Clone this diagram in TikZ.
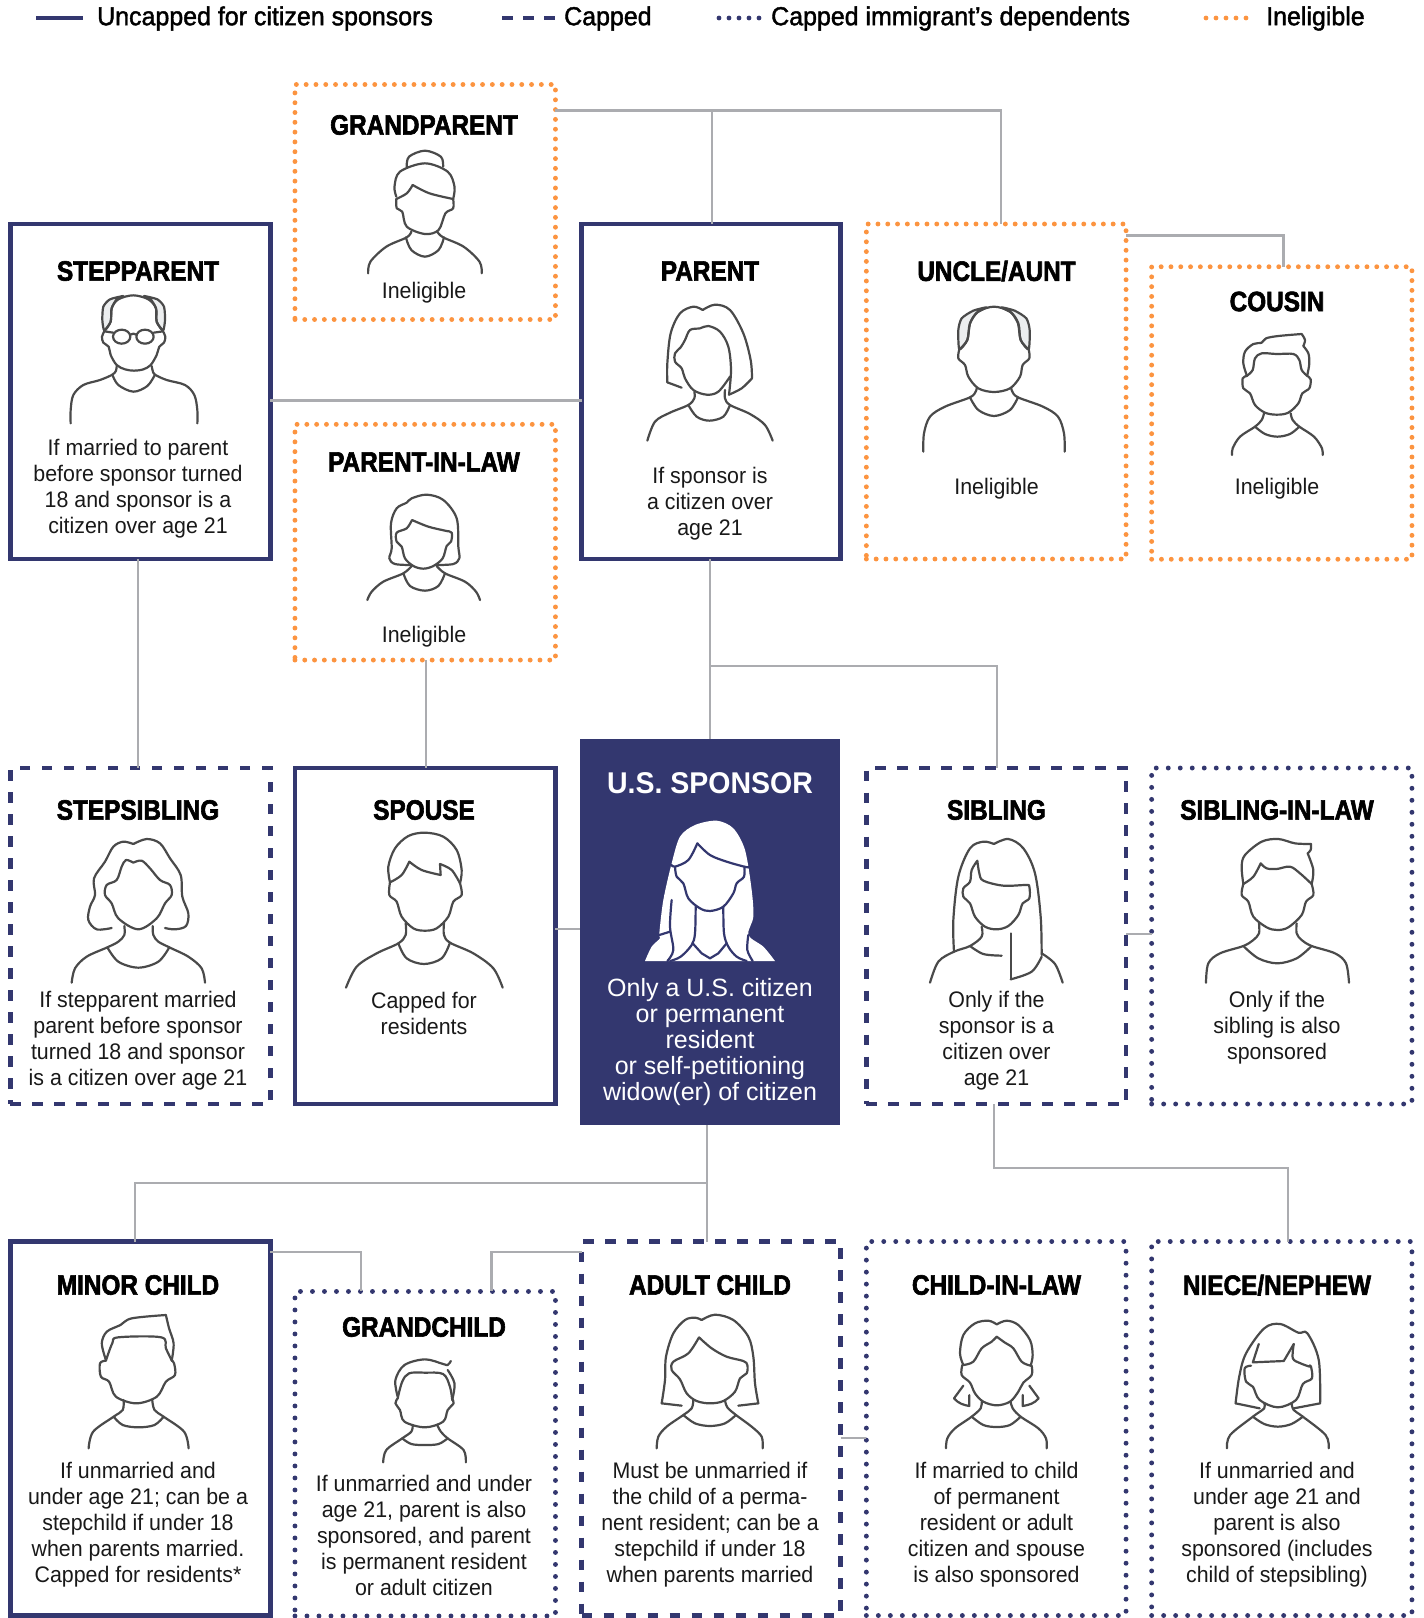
\documentclass[tikz,border=0pt]{standalone}
\usepackage{fontspec}
\setmainfont{Liberation Sans}
\newfontfamily\bodyf[FakeStretch=0.95]{Liberation Sans}
\newfontfamily\spf[FakeStretch=1.0]{Liberation Sans}
\newfontfamily\titlef[FakeStretch=0.87,FakeBold=2.2]{Liberation Sans Bold}
\newfontfamily\spt[FakeStretch=0.95]{Liberation Sans Bold}
\newfontfamily\legf[FakeStretch=0.96,FakeBold=1.6]{Liberation Sans}
\definecolor{navy}{HTML}{33376F}
\definecolor{orng}{HTML}{FC9440}
\definecolor{conn}{HTML}{ABACB0}
\definecolor{figc}{HTML}{4A4A4A}
\definecolor{hairg}{HTML}{ECEEEF}
\newcommand\sm[1]{\draw[figline] plot[smooth,tension=.55] coordinates {#1};}
\newcommand\hg[1]{\draw[figline,fill=hairg] plot[smooth cycle,tension=.4] coordinates {#1};}
\tikzset{
  boxbase/.style={inner sep=0pt,outer sep=0pt,line width=4.8pt,minimum width=#1},
  solidbox/.style={boxbase=#1,draw=navy,line cap=butt},
  dashbox/.style={boxbase=#1,draw=navy,dash pattern=on 10.5pt off 11.5pt},
  dotbox/.style={boxbase=#1,draw=navy,line width=4.9pt,line cap=round,dash pattern=on 0pt off 12pt},
  orgbox/.style={boxbase=#1,draw=orng,line width=4.9pt,line cap=round,dash pattern=on 0pt off 9.8pt},
  cline/.style={draw=conn,line width=2.2pt},
  figline/.style={draw=figc,line width=2.2pt,line cap=round,line join=round},
  navline/.style={draw=navy,line width=2.2pt,line cap=round,line join=round},
  title/.style={font=\titlef\fontsize{28}{30}\selectfont,text=black,inner sep=0pt},
  body/.style={font=\bodyf\fontsize{22.5}{26}\selectfont,text=black!90,align=center,inner sep=0pt},
  leg/.style={font=\legf\fontsize{26}{28}\selectfont,text=black,anchor=west,inner sep=0pt},
}
\begin{document}
\begin{tikzpicture}[x=1pt,y=-1pt]
\useasboundingbox (0,0) rectangle (1424,1618);
% boxes
\node[orgbox=260.5pt,minimum height=235pt] (gp) at (425.2,202) {};
\node[solidbox=260pt,minimum height=335pt] (step) at (140.2,391.5) {};
\node[solidbox=259pt,minimum height=335pt] (par) at (711,391.5) {};
\node[orgbox=259.7pt,minimum height=335pt] (unc) at (996.2,391.5) {};
\node[orgbox=260.3pt,minimum height=292.5pt] (cou) at (1281.8,413) {};
\node[orgbox=260.5pt,minimum height=235.7pt] (pil) at (425.2,542.2) {};
\node[dashbox=260pt,minimum height=336pt] (ssib) at (140.2,936) {};
\node[solidbox=260.5pt,minimum height=336pt] (spo) at (425.2,936) {};
\node[fill=navy,inner sep=0pt,minimum width=260pt,minimum height=386pt] (us) at (710,932) {};
\node[dashbox=259.7pt,minimum height=336pt] (sib) at (996.2,936) {};
\node[dotbox=260.3pt,minimum height=336pt] (sil) at (1281.8,936) {};
\node[solidbox=260pt,minimum height=374pt] (min) at (140.2,1428.5) {};
\node[dotbox=260.5pt,minimum height=324.5pt] (gc) at (425.2,1453.7) {};
\node[dashbox=259pt,minimum height=374pt] (adu) at (711,1428.5) {};
\node[dotbox=259.7pt,minimum height=374pt] (cil) at (996.2,1428.5) {};
\node[dotbox=260.3pt,minimum height=374pt] (nie) at (1281.8,1428.5) {};
% connector helper points
\coordinate (a1) at (712,110.5);
\coordinate (a2) at (1001,110.5);
\coordinate (b1) at (710,666);
\coordinate (b2) at (997,666);
\coordinate (c1) at (1283.5,235.5);
\coordinate (d1) at (994,1168);
\coordinate (d2) at (1288,1168);
\coordinate (e1) at (707,1183);
\coordinate (e2) at (135,1183);
\coordinate (f1) at (361,1252);
\coordinate (f2) at (491.5,1252);
\coordinate (g1) at (0,400.5);
\coordinate (g2) at (0,929);
\coordinate (g3) at (0,934);
\coordinate (g4) at (0,1438);
\coordinate (h1) at (138,0);
\coordinate (h2) at (426,0);
% connectors
\draw[cline] (gp.east |- a1) -- (a2) -- (a2 |- unc.north);
\draw[cline] (a1) -- (a1 |- par.north);
\draw[cline] (step.east |- g1) -- (par.west |- g1);
\draw[cline] (h1 |- step.south) -- (h1 |- ssib.north);
\draw[cline] (h2 |- pil.south) -- (h2 |- spo.north);
\draw[cline] (b1 |- par.south) -- (b1 |- us.north);
\draw[cline] (b1) -- (b2) -- (b2 |- sib.north);
\draw[cline] (unc.east |- c1) -- (c1) -- (c1 |- cou.north);
\draw[cline] (spo.east |- g2) -- (us.west |- g2);
\draw[cline] (sib.east |- g3) -- (sil.west |- g3);
\draw[cline] (d1 |- sib.south) -- (d1) -- (d2) -- (d2 |- nie.north);
\draw[cline] (e1 |- us.south) -- (e1 |- adu.north);
\draw[cline] (e1) -- (e2) -- (e2 |- min.north);
\draw[cline] (min.east |- f1) -- (f1) -- (f1 |- gc.north);
\draw[cline] (adu.west |- f2) -- (f2) -- (f2 |- gc.north);
\draw[cline] (adu.east |- g4) -- (cil.west |- g4);
% legend
\draw[navy,line width=4.8pt] (36,18) -- (83,18);
\draw[navy,line width=4.8pt,dash pattern=on 10.5pt off 10.5pt] (502,18) -- (555,18);
\draw[navy,line width=4.8pt,line cap=round,dash pattern=on 0pt off 10pt] (719,18) -- (767,18);
\draw[orng,line width=4.8pt,line cap=round,dash pattern=on 0pt off 10pt] (1206,18) -- (1256,18);
\node[leg] (l1) at (97,18.5) {Uncapped for citizen sponsors};
\node[leg] (l2) at (564,18.5) {Capped};
\node[leg] (l3) at (771,18.5) {Capped immigrant’s dependents};
\node[leg] (l4) at (1266,18.5) {Ineligible};
% titles
\node[title] (t1) at (424,125) {GRANDPARENT};
\node[title] (t2) at (138,271) {STEPPARENT};
\node[title] (t3) at (710,271) {PARENT};
\node[title] (t4) at (996.5,271) {UNCLE/AUNT};
\node[title] (t5) at (1277,301.5) {COUSIN};
\node[title] (t6) at (424,462) {PARENT-IN-LAW};
\node[title] (t7) at (138,810) {STEPSIBLING};
\node[title] (t8) at (424,810) {SPOUSE};
\node[title] (t9) at (996.5,810) {SIBLING};
\node[title] (t10) at (1277,810) {SIBLING-IN-LAW};
\node[title] (t11) at (138,1285) {MINOR CHILD};
\node[title] (t12) at (424,1327) {GRANDCHILD};
\node[title] (t13) at (710,1285) {ADULT CHILD};
\node[title] (t14) at (996.5,1285) {CHILD-IN-LAW};
\node[title] (t15) at (1277,1285) {NIECE/NEPHEW};
\node[font=\spt\fontsize{30}{32}\selectfont,text=white,inner sep=0pt] (t16) at (710,783) {U.S. SPONSOR};
% body texts
\node[body] (b01) at (424,293) {Ineligible};
\node[body] (b02) at (138,489) {If married to parent\\before sponsor turned\\18 and sponsor is a\\citizen over age 21};
\node[body] (b03) at (710,504) {If sponsor is\\a citizen over\\age 21};
\node[body] (b04) at (996.5,489) {Ineligible};
\node[body] (b05) at (1277,489) {Ineligible};
\node[body] (b06) at (424,637) {Ineligible};
\node[body] (b07) at (138,1041) {If stepparent married\\parent before sponsor\\turned 18 and sponsor\\is a citizen over age 21};
\node[body] (b08) at (424,1013) {Capped for\\residents};
\node[body] (b09) at (996.5,1041) {Only if the\\sponsor is a\\citizen over\\age 21};
\node[body] (b10) at (1277,1028) {Only if the\\sibling is also\\sponsored};
\node[body] (b11) at (138,1525) {If unmarried and\\under age 21; can be a\\stepchild if under 18\\when parents married.\\Capped for residents*};
\node[body] (b12) at (424,1535.5) {If unmarried and under\\age 21, parent is also\\sponsored, and parent\\is permanent resident\\or adult citizen};
\node[body] (b13) at (710,1525) {Must be unmarried if\\the child of a perma-\\nent resident; can be a\\stepchild if under 18\\when parents married};
\node[body] (b14) at (996.5,1525) {If married to child\\of permanent\\resident or adult\\citizen and spouse\\is also sponsored};
\node[body] (b15) at (1277,1525) {If unmarried and\\under age 21 and\\parent is also\\sponsored (includes\\child of stepsibling)};
\node[font=\spf\fontsize{25}{26}\selectfont,text=white,align=center,inner sep=0pt] (b16) at (710,1042.5) {Only a U.S. citizen\\or permanent\\resident\\or self-petitioning\\widow(er) of citizen};
% ---- figures ----
% stepparent
\begin{scope}[shift={(60,290)},scale=1/3]
\hg{(133,122)(127,90)(130,50)(150,28)(190,18)(170,28)(155,55)(152,95)}
\hg{(309,122)(315,90)(312,50)(292,28)(252,18)(272,28)(288,55)(290,95)}
\sm{(133,122)(152,95)(155,55)(175,28)(220,16)(265,28)(288,55)(290,95)(309,122)}
\sm{(133,124)(126,140)(130,158)(146,170)(152,195)(170,225)(195,238)(222,242)(250,238)(272,225)(290,195)(298,170)(312,158)(316,140)(309,124)}
\sm{(170,228)(168,242)(157,254)(120,270)(70,285)(40,315)(32,360)(32,400)}
\sm{(275,228)(278,242)(285,254)(320,270)(375,285)(403,315)(412,360)(412,400)}
\sm{(157,254)(175,285)(220,305)(262,288)(285,254)}
\draw[figline] (185,140) ellipse [x radius=26,y radius=21];
\draw[figline] (255,140) ellipse [x radius=26,y radius=21];
\draw[figline] (133,124) -- (160,128) (281,128) -- (309,124) (211,134) .. controls (218,130) and (222,130) .. (229,134);
\end{scope}
% parent and uncle
\begin{scope}[shift={(630,290)},scale=1/3]
\sm{(155,293)(112,277)}
\sm{(112,277)(112,220)(122,130)(150,70)(190,50)(218,60)}
\sm{(218,60)(255,44)(300,60)(340,130)(362,210)(366,265)}
\sm{(366,265)(335,295)(297,314)}
\sm{(297,314)(303,240)(295,170)(270,125)(235,108)(210,115)(180,120)(165,150)(152,172)(135,190)(135,215)(155,235)(165,265)(190,300)(230,314)(265,305)(300,260)}
\sm{(193,305)(193,325)(175,345)(120,368)(75,395)(52,452)}
\sm{(285,300)(285,325)(300,345)(360,372)(405,405)(428,452)}
\sm{(175,345)(200,380)(238,392)(280,380)(300,345)}
\hg{(988,178)(985,120)(995,85)(1030,62)(1070,52)(1040,68)(1020,100)(1012,150)}
\hg{(1196,178)(1199,120)(1189,85)(1154,62)(1114,52)(1144,68)(1164,100)(1172,150)}
\sm{(988,178)(1012,150)(1020,100)(1045,65)(1092,50)(1140,65)(1165,100)(1172,150)(1196,178)}
\sm{(988,178)(985,205)(1005,225)(1015,260)(1045,295)(1092,306)(1140,295)(1170,260)(1178,225)(1198,205)(1196,178)}
\sm{(1040,295)(1037,305)(1020,322)(945,350)(900,380)(882,430)(880,485)}
\sm{(1144,295)(1147,305)(1164,322)(1239,350)(1284,380)(1302,430)(1304,485)}
\sm{(1020,322)(1045,360)(1092,378)(1140,360)(1164,322)}
\end{scope}
% cousin
\begin{scope}[shift={(1190,320)},scale=1/3]
\sm{(170,165)(160,130)(165,95)(190,72)(215,68)(228,55)(265,48)(335,42)}
\sm{(335,42)(345,60)(340,78)}
\sm{(340,78)(355,100)(358,130)(352,165)}
\sm{(170,168)(188,150)(195,115)(215,100)(260,102)(310,102)(328,120)(335,150)(352,168)}
\sm{(170,168)(158,175)(160,205)(180,220)(195,255)(225,278)(260,284)(295,278)(325,250)(337,220)(358,205)(362,178)(352,168)}
\sm{(222,280)(215,300)(195,320)(150,350)(128,385)(126,405)}
\sm{(302,280)(308,300)(328,320)(372,350)(396,385)(398,405)}
\sm{(195,320)(225,342)(262,350)(300,342)(328,320)}
\end{scope}
% stepsibling, spouse
\begin{scope}[shift={(60,820)},scale=1/3]
\sm{(155,324)(110,328)(85,300)(90,260)(105,225)(102,175)(135,125)(160,80)(190,65)(220,72)}
\sm{(220,72)(260,57)(300,70)(330,115)(362,165)(367,230)(385,280)(378,318)(345,328)(315,324)}
\sm{(220,128)(198,120)(185,140)(170,180)(140,195)(135,225)(155,250)(175,295)(235,328)(290,295)(315,250)(335,225)(330,195)(300,180)(270,145)(245,122)(220,128)}
\sm{(193,318)(193,345)(175,365)(142,382)(80,410)(45,445)(35,488)}
\sm{(278,318)(280,345)(295,365)(328,382)(385,410)(425,445)(435,488)}
\sm{(142,382)(175,425)(235,443)(295,425)(328,382)}
\sm{(990,187)(985,140)(1005,85)(1045,48)(1095,38)(1150,50)(1190,90)(1205,150)(1200,190)}
\sm{(990,187)(1025,165)(1048,125)}
\sm{(1048,125)(1085,150)(1142,165)}
\sm{(1142,165)(1140,132)}
\sm{(1140,132)(1175,150)(1200,190)}
\sm{(990,187)(988,225)(1010,245)(1025,290)(1060,325)(1095,332)(1130,325)(1165,290)(1180,245)(1205,225)(1200,190)}
\sm{(1037,310)(1037,345)(1015,370)(950,400)(890,440)(858,503)}
\sm{(1152,310)(1152,345)(1170,368)(1240,400)(1300,445)(1328,503)}
\sm{(1015,370)(1040,415)(1092,432)(1145,415)(1170,368)}
\end{scope}
% sibling, sibling-in-law
\begin{scope}[shift={(920,820)},scale=1/3]
\sm{(102,395)(100,300)(115,170)(150,85)(190,65)(222,72)}
\sm{(222,72)(265,57)(310,85)(345,160)(362,290)(365,405)}
\sm{(365,410)(335,455)(272,478)}
\sm{(272,478)(272,340)}
\sm{(172,122)(155,150)(150,185)(130,205)(130,230)(150,250)(165,290)(195,320)(230,328)(265,318)(295,285)(308,250)(328,235)(328,200)(318,195)(250,197)(190,182)(178,160)(172,122)}
\sm{(185,320)(185,350)(150,378)(102,395)(55,425)(30,488)}
\sm{(365,400)(405,432)(428,488)}
\sm{(150,378)(190,402)(245,407)}
\sm{(970,192)(965,140)(975,105)(1025,65)(1075,57)(1125,70)(1173,72)}
\sm{(1173,72)(1172,90)(1163,100)}
\sm{(1163,100)(1180,150)(1175,192)}
\sm{(970,192)(1000,170)(1022,130)}
\sm{(1022,130)(1040,145)(1070,147)(1110,140)(1140,160)(1175,192)}
\sm{(970,192)(965,225)(985,245)(1000,290)(1040,322)(1072,330)(1105,322)(1145,285)(1158,245)(1180,225)(1175,192)}
\sm{(1017,310)(1017,340)(1000,360)(970,378)(900,400)(865,430)(858,488)}
\sm{(1130,310)(1130,340)(1145,360)(1175,378)(1245,400)(1278,430)(1287,488)}
\sm{(970,378)(1015,415)(1072,430)(1130,415)(1175,378)}
\end{scope}
% adult child, child-in-law
\begin{scope}[shift={(630,1300)},scale=1/3]
\sm{(155,317)(95,310)}
\sm{(95,310)(105,240)(108,170)(130,100)(165,60)(195,53)(215,60)}
\sm{(215,60)(255,44)(310,60)(355,110)(370,170)(375,250)(385,310)}
\sm{(385,310)(325,317)}
\sm{(207,112)(175,160)(130,185)(125,210)(150,238)(170,280)(200,303)(240,310)(280,303)(315,275)(330,235)(350,220)(352,195)(340,183)(290,170)(245,145)(207,112)}
\sm{(190,300)(185,325)(160,345)(110,380)(85,410)(80,445)}
\sm{(285,300)(292,322)(318,345)(365,380)(395,410)(398,445)}
\sm{(160,345)(195,370)(240,378)(285,370)(318,345)}
\sm{(1000,195)(990,160)(1000,105)(1035,70)(1075,62)(1100,73)}
\sm{(1100,73)(1130,62)(1165,75)(1200,120)(1208,165)(1202,197)}
\sm{(1000,195)(1030,185)(1055,145)(1085,125)(1100,110)}
\sm{(1100,110)(1125,128)(1150,145)(1175,185)(1202,197)}
\sm{(997,195)(995,225)(1020,248)(1035,280)(1060,305)(1100,316)(1140,305)(1165,275)(1180,248)(1205,225)(1205,197)}
\draw[figline] (1000,257) -- (972,295) .. controls (985,310) and (1000,315) .. (1018,318) -- (1018,285);
\draw[figline] (1198,257) -- (1226,295) .. controls (1213,310) and (1198,315) .. (1178,318) -- (1178,285);
\sm{(1055,305)(1052,325)(1025,350)(975,385)(952,415)(948,445)}
\sm{(1142,305)(1148,325)(1172,350)(1225,385)(1248,415)(1250,445)}
\sm{(1025,350)(1060,375)(1100,381)(1140,375)(1172,350)}
\end{scope}
% parent-in-law
\begin{scope}[shift={(350,480)},scale=1/3]
\sm{(185,255)(135,252)(118,235)(125,205)(123,130)(140,85)(170,68)(185,55)(230,44)(280,60)(320,115)(325,200)(328,235)(310,252)(262,255)}
\sm{(186,120)(170,145)(140,158)(140,185)(155,200)(165,235)(190,258)(220,266)(250,258)(278,235)(290,198)(303,185)(305,158)(285,152)(235,140)(186,120)}
\sm{(185,258)(160,280)(100,305)(65,335)(52,360)}
\sm{(260,258)(285,280)(345,305)(378,335)(390,360)}
\sm{(160,280)(180,318)(225,332)(265,318)(285,280)}
\end{scope}
% grandparent
\begin{scope}[xscale=1/2.2,yscale=1/3]
\sm{(895,500)(900,470)(935,452)(970,470)(975,500)}
\sm{(872,590)(868,560)(880,515)(935,490)(985,515)(1000,560)(997,597)}
\sm{(872,597)(895,580)(908,555)}
\sm{(908,555)(945,580)(997,597)}
\sm{(872,597)(873,625)(885,635)(895,680)(935,702)(965,690)(980,640)(997,625)(997,597)}
\sm{(905,695)(895,712)(850,740)(815,785)(810,820)}
\sm{(962,695)(975,712)(1020,740)(1055,785)(1060,820)}
\sm{(893,712)(905,750)(935,770)(965,750)(977,712)}
\end{scope}
% minor child, grandchild
\begin{scope}[shift={(0,1200)},xscale=1/2.2,yscale=1/3]
\sm{(233,480)(224,430)(235,395)(265,375)(290,355)(365,345)}
\sm{(365,345)(372,385)(382,430)(378,480)}
\sm{(233,482)(247,430)(260,412)(355,412)(365,445)(378,482)}
\sm{(233,482)(220,490)(222,530)(240,545)(255,590)(300,610)(345,590)(365,545)(385,525)(383,490)(378,482)}
\sm{(272,600)(270,630)(250,650)(205,695)(195,745)}
\sm{(335,600)(340,630)(360,650)(405,695)(415,745)}
\sm{(250,650)(270,675)(305,682)(340,675)(360,650)}
\sm{(875,590)(870,540)(890,495)(935,478)(975,492)(985,495)(992,483)}
\sm{(985,510)(1000,550)(995,600)}
\sm{(875,595)(885,545)(900,520)(935,518)(975,522)(990,560)(995,600)}
\sm{(875,595)(870,610)(880,630)(890,665)(935,682)(975,665)(985,630)(998,610)(995,597)}
\sm{(908,675)(905,695)(885,715)(850,750)(843,787)}
\sm{(962,675)(970,695)(985,715)(1020,750)(1025,787)}
\sm{(885,715)(905,732)(935,735)(965,732)(985,715)}
\end{scope}
% niece/nephew
\begin{scope}[shift={(712,1200)},xscale=1/2.2,yscale=1/3]
\sm{(1205,625)(1152,610)}
\sm{(1152,610)(1160,530)(1175,460)(1215,385)(1250,372)(1290,398)(1310,400)(1335,480)(1338,610)}
\sm{(1338,610)(1280,625)}
\draw[figline] (1203,432) -- (1190,487) -- (1258,483) -- (1280,432);
\sm{(1280,432)(1278,475)(1295,490)(1315,500)}
\sm{(1186,497)(1172,505)(1175,545)(1190,560)(1205,600)(1245,622)(1285,600)(1300,552)(1320,535)(1318,500)(1315,497)}
\sm{(1215,610)(1215,625)(1190,650)(1140,705)(1133,745)}
\sm{(1275,610)(1280,630)(1300,650)(1350,705)(1357,745)}
\sm{(1190,650)(1215,672)(1245,680)(1275,672)(1300,650)}
\end{scope}
% sponsor
\begin{scope}[shift={(560,730)},scale=1/3]
\fill[white] plot[smooth,tension=.5] coordinates {(255,693)(275,650)(300,625)(298,610)(310,510)(335,400)(360,320)(405,285)(470,272)(520,295)(555,360)(575,480)(580,560)(565,615)(610,650)(645,693)} -- cycle;
\draw[navline] plot[smooth,tension=.55] coordinates {(345,410)(350,440)(370,460)(385,505)(420,535)(450,543)(490,530)(520,490)(530,460)(552,440)(553,410)};
\draw[navline] plot[smooth,tension=.55] coordinates {(335,405)(345,410)(385,390)(412,340)};
\draw[navline] plot[smooth,tension=.55] coordinates {(412,340)(450,375)(500,395)(553,410)(568,412)};
\draw[navline] plot[smooth,tension=.55] coordinates {(335,510)(330,590)(340,660)(322,693)};
\draw[navline] (298,615) -- (330,605);
\draw[navline] plot[smooth,tension=.55] coordinates {(407,530)(405,610)(395,645)(362,680)(330,693)};
\draw[navline] plot[smooth,tension=.55] coordinates {(490,530)(492,610)(505,650)(530,680)(560,693)};
\draw[navline] plot[smooth,tension=.55] coordinates {(565,615)(562,660)(578,693)};
\draw[navline] (398,640) -- (425,670) -- (450,685) -- (475,670) -- (500,640);
\end{scope}
\end{tikzpicture}
\end{document}
